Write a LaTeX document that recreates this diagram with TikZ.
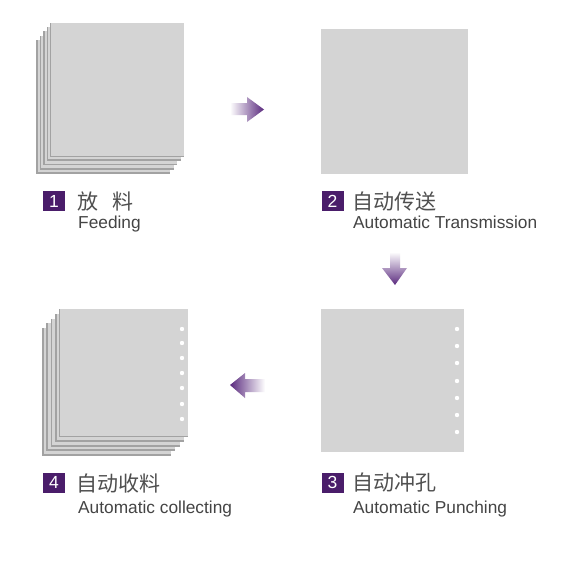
\documentclass[tikz,border=0pt]{standalone}
\usepackage{fontspec}
\setmainfont{Liberation Sans}
\newfontfamily\cjk{Noto Sans CJK SC}
\definecolor{sheetlight}{HTML}{D4D4D4}
\definecolor{sheetdark}{HTML}{A2A2A2}
\definecolor{numpurple}{HTML}{4A1D6A}
\definecolor{arrowpurple}{HTML}{5A2A7E}
\definecolor{txtgray}{HTML}{444444}
\definecolor{cjkgray}{HTML}{4F4F4F}
\tikzset{
  numbox/.style={fill=numpurple, minimum width=22pt, minimum height=20pt, inner sep=0pt, text=white, font=\fontsize{17.5}{17.5}\selectfont},
  cjklabel/.style={anchor=base west, inner sep=0pt, text=cjkgray, font=\cjk\fontsize{21}{21}\selectfont},
  enlabel/.style={anchor=base west, inner sep=0pt, text=txtgray, font=\fontsize{17.3}{17.3}\selectfont},
  hole/.style={fill=white, draw=none},
}
\newcommand{\mystack}[6]{% x1 y1 x2 y2 dx dy (top sheet, per-layer offset)
  \foreach \k in {4,3,2,1}{
    \fill[sheetdark] ({#1-#5*\k},{#2+#6*\k}) rectangle ({#3-#5*\k},{#4+#6*\k});
    \fill[sheetlight] ({#1-#5*\k+1.8},{#2+#6*\k}) rectangle ({#3-#5*\k},{#4+#6*\k-1.9});
  }
  \fill[sheetdark] (#1,#2) rectangle (#3,#4);
  \fill[sheetlight] ({#1+1.2},#2) rectangle (#3,{#4-1.4});
}
\begin{document}
\begin{tikzpicture}[x=1pt,y=-1pt]
\useasboundingbox[fill=white] (0,0) rectangle (577,567);

% stack 1
\mystack{50}{23}{184}{157}{3.5}{4.2}
% sheet 2
\fill[sheetlight] (321,29) rectangle (468,174);
% sheet 3
\fill[sheetlight] (321,309) rectangle (464,452);
\foreach \yy in {329,346,363,381,398,415,432}{
  \fill[hole] (457,\yy) circle (2.2);
}
% stack 4
\mystack{59}{309}{188}{437}{4.2}{4.75}
\foreach \yy in {329,343,358,373,388,404,419}{
  \fill[hole] (182,\yy) circle (2.2);
}

% arrows
\shade[left color=white, right color=arrowpurple, middle color=arrowpurple!50]
  (230,103) -- (247,103) -- (247,97) -- (264,109.5) -- (247,122) -- (247,115) -- (230,115) -- cycle;
\shade[top color=white, bottom color=arrowpurple, middle color=arrowpurple!50]
  (390,252) -- (400,252) -- (400,268) -- (407,268) -- (395,285) -- (382,268) -- (390,268) -- cycle;
\shade[right color=white, left color=arrowpurple, middle color=arrowpurple!50]
  (265,379) -- (245,379) -- (245,373) -- (230,385) -- (245,398) -- (245,392) -- (265,392) -- cycle;

% labels
\node[numbox] (n1) at (54,201) {1};
\node[cjklabel] (c1) at (77,209.5) {放\hspace{14pt}料};
\node[enlabel] (e1) at (78,228) {Feeding};

\node[numbox] (n2) at (332.5,201) {2};
\node[cjklabel] (c2) at (352,209.5) {自动传送};
\node[enlabel] (e2) at (353,228) {Automatic Transmission};

\node[numbox] (n3) at (332.5,482.5) {3};
\node[cjklabel] (c3) at (352,490.5) {自动冲孔};
\node[enlabel] (e3) at (353,513) {Automatic Punching};

\node[numbox] (n4) at (54,482.5) {4};
\node[cjklabel] (c4) at (76,491) {自动收料};
\node[enlabel] (e4) at (78,513) {Automatic collecting};
\end{tikzpicture}
\end{document}
